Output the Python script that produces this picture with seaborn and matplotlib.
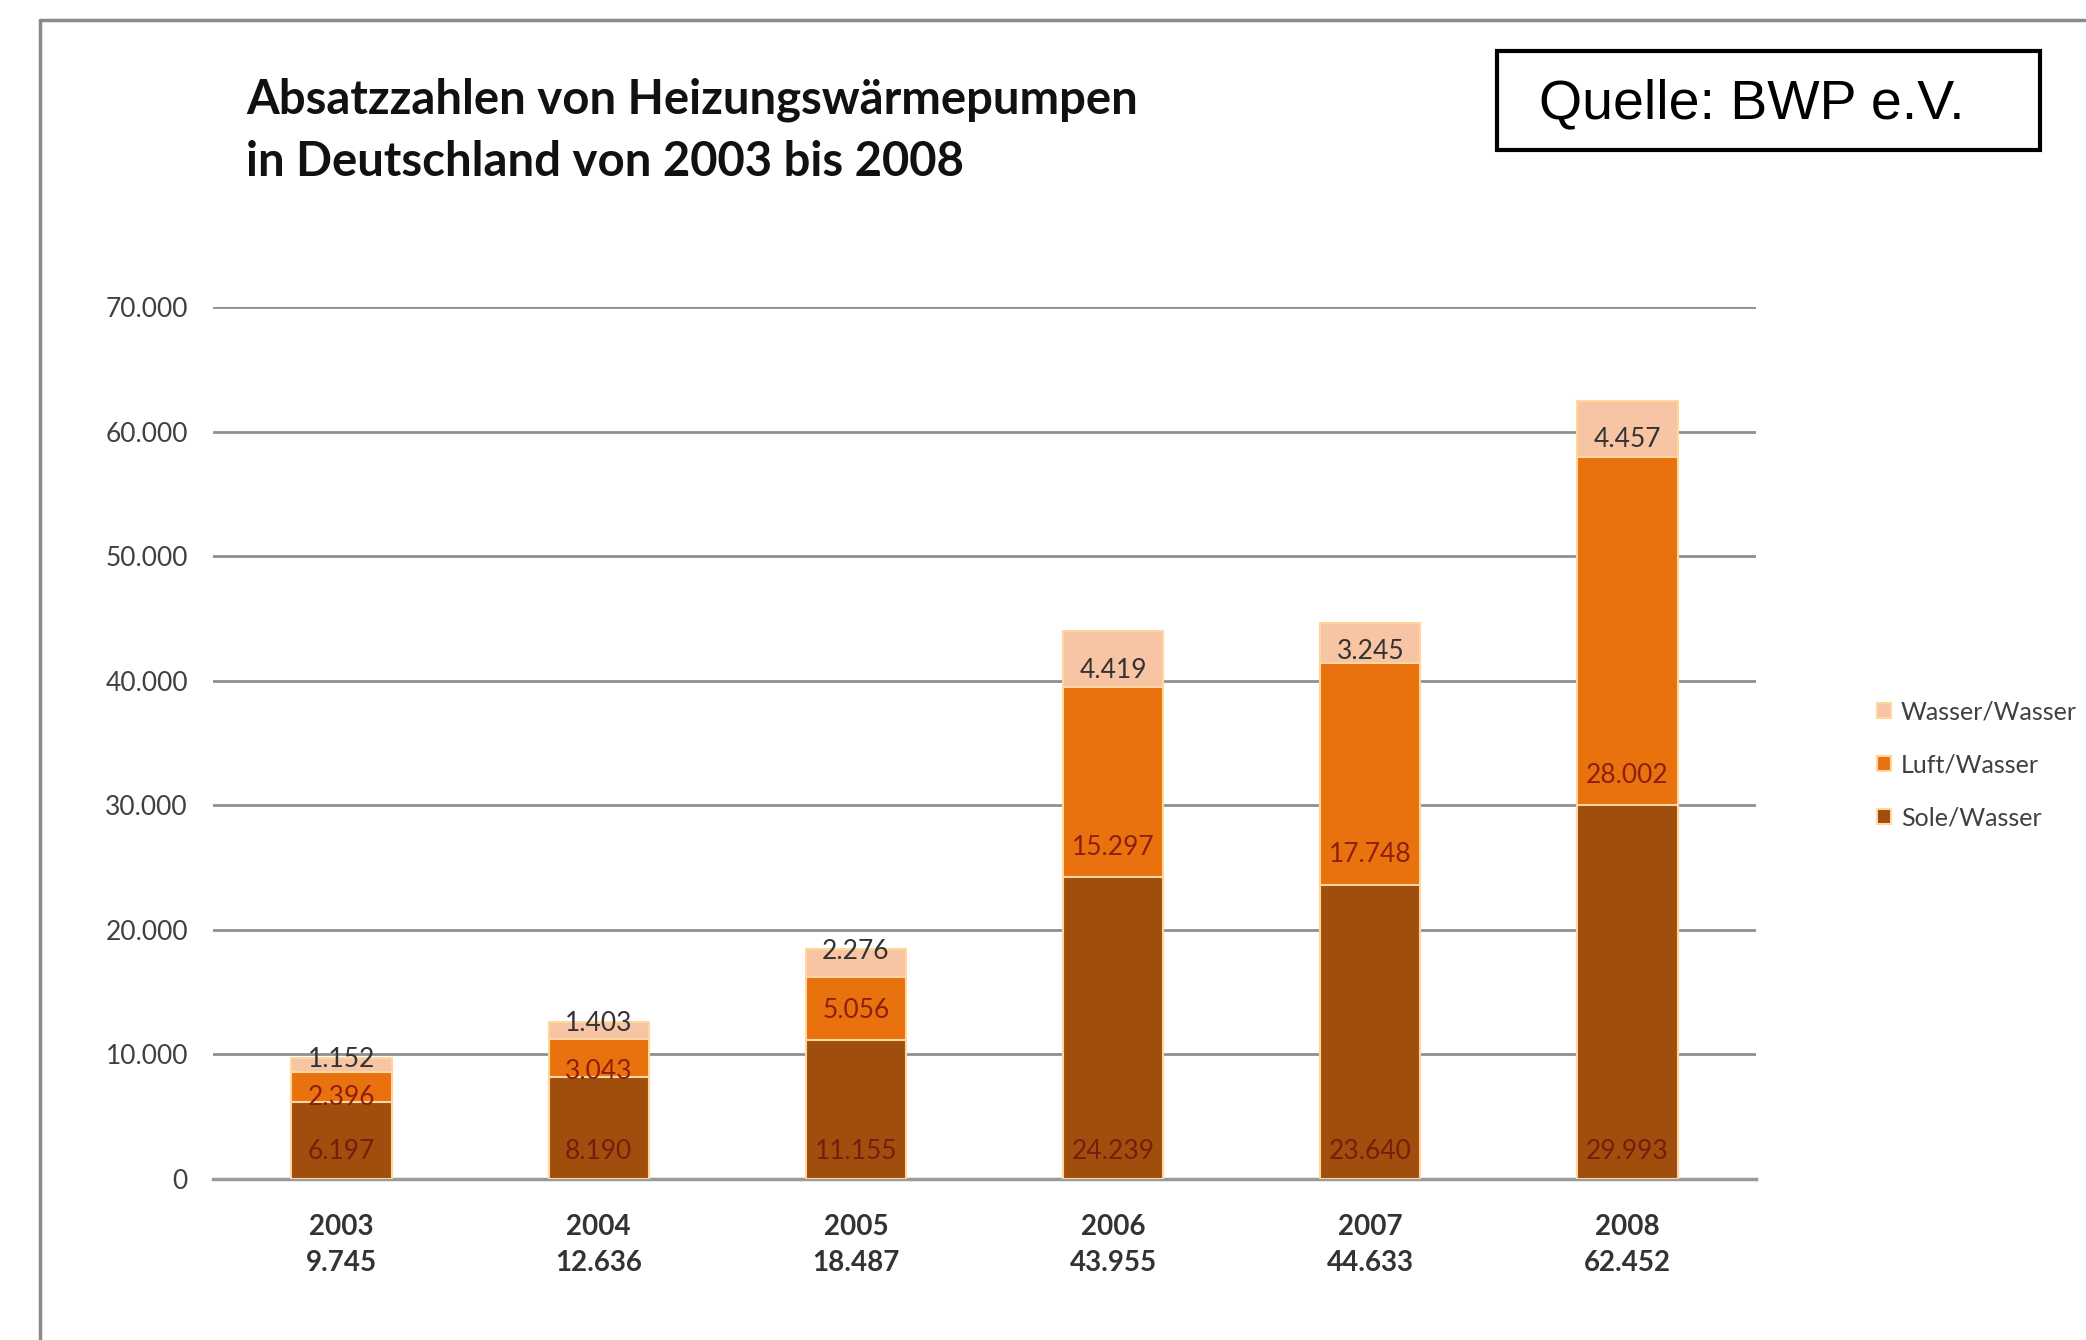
import numpy as np
import pandas as pd
import seaborn as sns
import matplotlib.pyplot as plt
from matplotlib.patches import Rectangle
from matplotlib.lines import Line2D

# Absatzzahlen Heizungswaermepumpen (BWP e.V.)
years = ["2003", "2004", "2005", "2006", "2007", "2008"]
sole_wasser = [6197, 8190, 11155, 24239, 23640, 29993]
luft_wasser = [2396, 3043, 5056, 15297, 17748, 28002]
wasser_wasser = [1152, 1403, 2276, 4419, 3245, 4457]
y_ticks = [0, 10000, 20000, 30000, 40000, 50000, 60000, 70000]

col_sole = "#A04E0E"
col_luft = "#E9720E"
col_wasser = "#F7C4A4"
edge = "#FFD79E"


def de(v):
    return f"{v:,}".replace(",", ".")


df = pd.DataFrame({"Jahr": years, "Sole/Wasser": sole_wasser,
                   "Luft/Wasser": luft_wasser, "Wasser/Wasser": wasser_wasser})
df["bis_luft"] = df["Sole/Wasser"] + df["Luft/Wasser"]
df["gesamt"] = df["bis_luft"] + df["Wasser/Wasser"]

sns.set_theme(style="white")
plt.rcParams["font.family"] = ["Lato", "DejaVu Sans"]

fig = plt.figure(figsize=(20.86, 13.40), dpi=100)
ax = fig.add_axes([0.1021, 0.1201, 0.7397, 0.6508])

# stacked bars via cumulative overlays
sns.barplot(data=df, x="Jahr", y="gesamt", color=col_wasser, saturation=1, width=0.39,
            edgecolor=edge, linewidth=1.5, ax=ax, label="Wasser/Wasser", zorder=3)
sns.barplot(data=df, x="Jahr", y="bis_luft", color=col_luft, saturation=1, width=0.39,
            edgecolor=edge, linewidth=1.5, ax=ax, label="Luft/Wasser", zorder=3)
sns.barplot(data=df, x="Jahr", y="Sole/Wasser", color=col_sole, saturation=1, width=0.39,
            edgecolor=edge, linewidth=1.5, ax=ax, label="Sole/Wasser", zorder=3)

handles, labels = ax.get_legend_handles_labels()
if ax.get_legend() is not None:
    ax.get_legend().remove()

ax.set_xlim(-0.5, 5.5)
ax.set_ylim(0, 70000)
ax.set_yticks(y_ticks)
ax.set_yticklabels([de(t) for t in y_ticks], fontsize=19, color="#404040")
ax.yaxis.grid(True, color="#8f8f8f", linewidth=2, zorder=0)
ax.set_axisbelow(True)
ax.tick_params(axis="y", length=0, pad=18)

ax.set_xticks(range(len(years)))
ax.set_xticklabels([f"{y}\n{de(t)}" for y, t in zip(years, df["gesamt"])],
                   fontsize=20, fontweight="bold", color="#333333", linespacing=1.5)
ax.tick_params(axis="x", length=0, pad=25)
ax.set_xticks(np.arange(-0.5, 6, 1), minor=True)
ax.tick_params(axis="x", which="minor", length=9, color="#9a9a9a", width=1.5)
ax.set_xlabel("")
ax.set_ylabel("")

for s in ["top", "right", "left"]:
    ax.spines[s].set_visible(False)
ax.spines["bottom"].set_color("#9a9a9a")
ax.spines["bottom"].set_linewidth(2.5)

# data labels
for i in range(len(years)):
    s, l, w = sole_wasser[i], luft_wasser[i], wasser_wasser[i]
    top = s + l + w
    ax.text(i, 2250, de(s), ha="center", va="center", fontsize=19, color="#7E1A0C", zorder=5)
    off_l = 2400 if l > 4000 else l * 0.15
    ax.text(i, s + off_l, de(l), ha="center", va="center", fontsize=19,
            color="#8E1E0E", zorder=5)
    off_w = w * 0.7 if w > 3000 else w * 0.1
    ax.text(i, top - off_w, de(w), ha="center", va="center", fontsize=19,
            color="#333333", zorder=5)

# legend, top-to-bottom order like the original
order = [labels.index(n) for n in ["Wasser/Wasser", "Luft/Wasser", "Sole/Wasser"]]
fig.legend([handles[k] for k in order], [labels[k] for k in order],
           loc="center left", bbox_to_anchor=(0.889, 0.429), frameon=False,
           fontsize=18, handlelength=0.55, handleheight=0.55, handletextpad=0.4,
           labelspacing=1.2, labelcolor="#404040")

# title and source box
fig.text(0.118, 0.9254, "Absatzzahlen von Heizungswärmepumpen", fontsize=34,
         fontweight="bold", ha="left", va="center", color="#111111")
fig.text(0.118, 0.879, "in Deutschland von 2003 bis 2008", fontsize=34,
         fontweight="bold", ha="left", va="center", color="#111111")

fig.add_artist(Rectangle((0.7176, 0.8881), 0.2603, 0.0739, transform=fig.transFigure,
                         facecolor="white", edgecolor="black", linewidth=3))
fig.text(0.7378, 0.9224, "Quelle: BWP e.V.", fontsize=40, family="Liberation Sans",
         ha="left", va="center", color="black")

# outer frame of the slide
fig.add_artist(Line2D([0.0192, 0.0192], [0.0, 0.985], transform=fig.transFigure,
                      color="#8a8a8a", linewidth=2.5))
fig.add_artist(Line2D([0.0192, 1.0], [0.985, 0.985], transform=fig.transFigure,
                      color="#8a8a8a", linewidth=2.5))

fig.savefig("out.png", dpi=100)
